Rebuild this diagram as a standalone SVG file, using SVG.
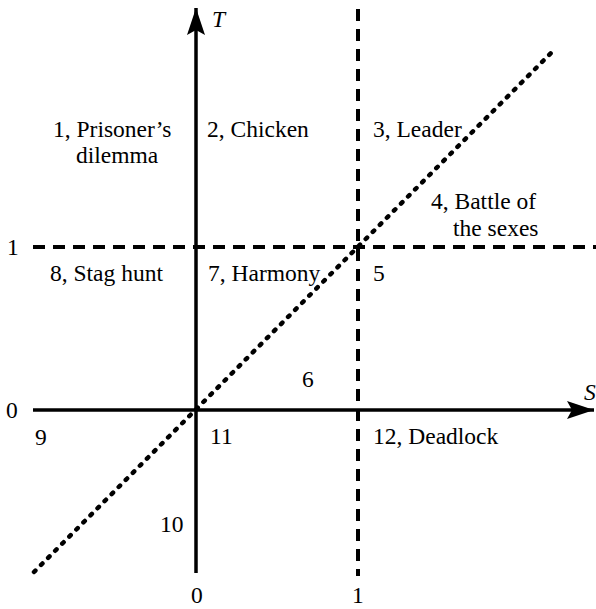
<svg xmlns="http://www.w3.org/2000/svg" width="596" height="609" viewBox="0 0 596 609">
<style>
.axis{stroke:#000;stroke-width:3.5;fill:none}
.dash{stroke:#000;stroke-width:4;stroke-dasharray:12 8;fill:none}
.dot{stroke:#000;stroke-width:4.5;stroke-dasharray:2 8;stroke-linecap:round;fill:none}
</style>
<defs>
<marker id="ah" markerUnits="userSpaceOnUse" markerWidth="30" markerHeight="20" refX="27" refY="9" orient="auto">
<path d="M0,0 L27,9 L0,18 L5,9 Z" fill="#000"/>
</marker>
</defs>
<g id="connectors">
<line class="dash" x1="358" y1="8" x2="358" y2="576" stroke-dashoffset="-1"/>
<line class="dash" x1="33" y1="247" x2="596" y2="247"/>
<line class="axis" x1="33" y1="410" x2="594" y2="410" marker-end="url(#ah)"/>
<line class="axis" x1="196" y1="573" x2="196" y2="8" marker-end="url(#ah)"/>
<line class="dot" x1="34" y1="572" x2="556" y2="48"/>
</g>
<g font-family="'Liberation Serif', 'Times New Roman', 'DejaVu Serif', serif" font-size="23.5" fill="#000">
<g id="labels">
<text font-style="italic" x="212" y="27">T</text>
<text font-style="italic" x="584" y="400">S</text>
<text x="7" y="255">1</text>
<text x="6" y="418">0</text>
<text x="191" y="603">0</text>
<text x="352" y="603">1</text>
</g>
<g id="regions">
<g id="r1"><text x="53" y="137">1, Prisoner’s</text><text x="76" y="163">dilemma</text></g>
<g id="r2"><text x="207" y="137">2, Chicken</text></g>
<g id="r3"><text x="373" y="137">3, Leader</text></g>
<g id="r4"><text x="431" y="209">4, Battle of</text><text x="453" y="236">the sexes</text></g>
<g id="r5"><text x="373" y="281">5</text></g>
<g id="r6"><text x="302" y="387">6</text></g>
<g id="r7"><text x="208" y="281">7, Harmony</text></g>
<g id="r8"><text x="50" y="281">8, Stag hunt</text></g>
<g id="r9"><text x="35" y="445">9</text></g>
<g id="r10"><text x="160" y="532">10</text></g>
<g id="r11"><text x="210" y="444">11</text></g>
<g id="r12"><text x="373" y="444">12, Deadlock</text></g>
</g>
</g>
</svg>
